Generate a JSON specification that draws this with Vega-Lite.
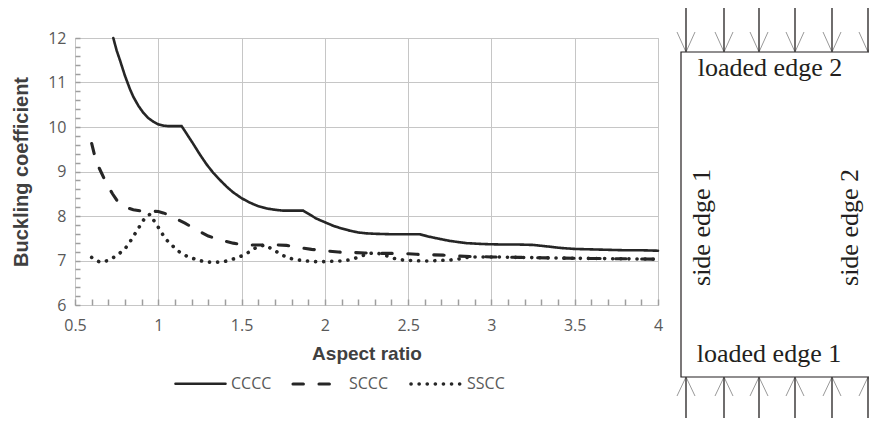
{
  "$schema": "https://vega.github.io/schema/vega-lite/v6.json",
  "width": 583,
  "height": 267,
  "autosize": {"type": "none"},
  "padding": {"left": 75, "top": 38, "right": 211, "bottom": 116},
  "background": "white",
  "config": {
    "view": {"stroke": "#c0c0c0", "strokeWidth": 1},
    "axis": {
      "domain": false,
      "gridColor": "#c6c6c6",
      "gridWidth": 1,
      "labelFont": "Open Sans",
      "labelFontSize": 16,
      "labelColor": "#595959",
      "titleFont": "Liberation Sans",
      "titleFontWeight": "bold",
      "titleFontSize": 19,
      "titleColor": "#404040",
      "labelOverlap": false,
      "labelFlush": false
    },
    "legend": {
      "labelFont": "Open Sans",
      "labelFontSize": 16,
      "labelColor": "#595959"
    }
  },
  "datasets": {
    "curves": [
      {"series": "CCCC", "ratio": 0.73, "k": 12.0},
      {"series": "CCCC", "ratio": 0.75, "k": 11.72},
      {"series": "CCCC", "ratio": 0.77, "k": 11.5},
      {"series": "CCCC", "ratio": 0.8, "k": 11.15},
      {"series": "CCCC", "ratio": 0.83, "k": 10.85},
      {"series": "CCCC", "ratio": 0.85, "k": 10.68},
      {"series": "CCCC", "ratio": 0.88, "k": 10.48},
      {"series": "CCCC", "ratio": 0.91, "k": 10.32},
      {"series": "CCCC", "ratio": 0.94, "k": 10.2},
      {"series": "CCCC", "ratio": 0.97, "k": 10.12},
      {"series": "CCCC", "ratio": 1.0, "k": 10.06},
      {"series": "CCCC", "ratio": 1.03, "k": 10.03},
      {"series": "CCCC", "ratio": 1.06, "k": 10.02},
      {"series": "CCCC", "ratio": 1.1, "k": 10.02},
      {"series": "CCCC", "ratio": 1.14, "k": 10.02},
      {"series": "CCCC", "ratio": 1.17, "k": 9.85},
      {"series": "CCCC", "ratio": 1.21, "k": 9.62},
      {"series": "CCCC", "ratio": 1.25, "k": 9.38},
      {"series": "CCCC", "ratio": 1.29, "k": 9.16},
      {"series": "CCCC", "ratio": 1.33, "k": 8.97},
      {"series": "CCCC", "ratio": 1.37, "k": 8.81},
      {"series": "CCCC", "ratio": 1.41, "k": 8.66},
      {"series": "CCCC", "ratio": 1.45, "k": 8.53},
      {"series": "CCCC", "ratio": 1.5, "k": 8.4},
      {"series": "CCCC", "ratio": 1.55, "k": 8.3},
      {"series": "CCCC", "ratio": 1.6, "k": 8.22},
      {"series": "CCCC", "ratio": 1.65, "k": 8.17},
      {"series": "CCCC", "ratio": 1.7, "k": 8.14},
      {"series": "CCCC", "ratio": 1.75, "k": 8.12},
      {"series": "CCCC", "ratio": 1.8, "k": 8.12},
      {"series": "CCCC", "ratio": 1.87, "k": 8.12},
      {"series": "CCCC", "ratio": 1.91, "k": 8.03},
      {"series": "CCCC", "ratio": 1.95, "k": 7.94},
      {"series": "CCCC", "ratio": 2.0, "k": 7.86},
      {"series": "CCCC", "ratio": 2.05, "k": 7.78},
      {"series": "CCCC", "ratio": 2.1, "k": 7.72},
      {"series": "CCCC", "ratio": 2.15, "k": 7.67},
      {"series": "CCCC", "ratio": 2.2, "k": 7.63},
      {"series": "CCCC", "ratio": 2.25, "k": 7.61},
      {"series": "CCCC", "ratio": 2.3, "k": 7.6},
      {"series": "CCCC", "ratio": 2.4, "k": 7.59},
      {"series": "CCCC", "ratio": 2.5, "k": 7.59},
      {"series": "CCCC", "ratio": 2.57, "k": 7.59},
      {"series": "CCCC", "ratio": 2.62, "k": 7.54},
      {"series": "CCCC", "ratio": 2.67, "k": 7.5},
      {"series": "CCCC", "ratio": 2.75, "k": 7.44},
      {"series": "CCCC", "ratio": 2.85, "k": 7.39},
      {"series": "CCCC", "ratio": 2.95, "k": 7.37},
      {"series": "CCCC", "ratio": 3.05, "k": 7.36},
      {"series": "CCCC", "ratio": 3.15, "k": 7.36},
      {"series": "CCCC", "ratio": 3.25, "k": 7.35},
      {"series": "CCCC", "ratio": 3.3, "k": 7.33},
      {"series": "CCCC", "ratio": 3.35, "k": 7.31},
      {"series": "CCCC", "ratio": 3.42, "k": 7.28},
      {"series": "CCCC", "ratio": 3.5, "k": 7.26},
      {"series": "CCCC", "ratio": 3.6, "k": 7.25},
      {"series": "CCCC", "ratio": 3.7, "k": 7.24},
      {"series": "CCCC", "ratio": 3.8, "k": 7.23},
      {"series": "CCCC", "ratio": 3.9, "k": 7.23},
      {"series": "CCCC", "ratio": 4.0, "k": 7.22},
      {"series": "SCCC", "ratio": 0.6, "k": 9.63},
      {"series": "SCCC", "ratio": 0.62, "k": 9.33},
      {"series": "SCCC", "ratio": 0.64, "k": 9.12},
      {"series": "SCCC", "ratio": 0.66, "k": 8.96},
      {"series": "SCCC", "ratio": 0.68, "k": 8.8},
      {"series": "SCCC", "ratio": 0.7, "k": 8.66},
      {"series": "SCCC", "ratio": 0.725, "k": 8.5},
      {"series": "SCCC", "ratio": 0.75, "k": 8.36},
      {"series": "SCCC", "ratio": 0.775, "k": 8.27},
      {"series": "SCCC", "ratio": 0.8, "k": 8.2},
      {"series": "SCCC", "ratio": 0.85, "k": 8.14},
      {"series": "SCCC", "ratio": 0.9, "k": 8.11},
      {"series": "SCCC", "ratio": 0.95, "k": 8.11},
      {"series": "SCCC", "ratio": 1.0, "k": 8.1},
      {"series": "SCCC", "ratio": 1.03, "k": 8.07},
      {"series": "SCCC", "ratio": 1.06, "k": 8.03},
      {"series": "SCCC", "ratio": 1.1, "k": 7.95},
      {"series": "SCCC", "ratio": 1.16, "k": 7.84},
      {"series": "SCCC", "ratio": 1.22, "k": 7.71},
      {"series": "SCCC", "ratio": 1.3, "k": 7.55},
      {"series": "SCCC", "ratio": 1.38, "k": 7.45},
      {"series": "SCCC", "ratio": 1.45, "k": 7.39},
      {"series": "SCCC", "ratio": 1.5, "k": 7.36},
      {"series": "SCCC", "ratio": 1.55, "k": 7.35},
      {"series": "SCCC", "ratio": 1.6, "k": 7.35},
      {"series": "SCCC", "ratio": 1.7, "k": 7.35},
      {"series": "SCCC", "ratio": 1.77, "k": 7.34},
      {"series": "SCCC", "ratio": 1.85, "k": 7.29},
      {"series": "SCCC", "ratio": 1.92, "k": 7.25},
      {"series": "SCCC", "ratio": 2.0, "k": 7.22},
      {"series": "SCCC", "ratio": 2.08, "k": 7.19},
      {"series": "SCCC", "ratio": 2.16, "k": 7.18},
      {"series": "SCCC", "ratio": 2.24, "k": 7.17},
      {"series": "SCCC", "ratio": 2.32, "k": 7.16},
      {"series": "SCCC", "ratio": 2.4, "k": 7.16},
      {"series": "SCCC", "ratio": 2.5, "k": 7.15},
      {"series": "SCCC", "ratio": 2.55, "k": 7.14},
      {"series": "SCCC", "ratio": 2.63, "k": 7.13},
      {"series": "SCCC", "ratio": 2.71, "k": 7.12},
      {"series": "SCCC", "ratio": 2.8, "k": 7.1},
      {"series": "SCCC", "ratio": 2.87, "k": 7.09},
      {"series": "SCCC", "ratio": 3.0, "k": 7.08},
      {"series": "SCCC", "ratio": 3.17, "k": 7.07},
      {"series": "SCCC", "ratio": 3.33, "k": 7.06},
      {"series": "SCCC", "ratio": 3.5, "k": 7.05},
      {"series": "SCCC", "ratio": 3.75, "k": 7.04},
      {"series": "SCCC", "ratio": 4.0, "k": 7.03},
      {"series": "SSCC", "ratio": 0.6, "k": 7.07},
      {"series": "SSCC", "ratio": 0.65, "k": 6.96},
      {"series": "SSCC", "ratio": 0.7, "k": 7.0},
      {"series": "SSCC", "ratio": 0.75, "k": 7.11},
      {"series": "SSCC", "ratio": 0.8, "k": 7.26},
      {"series": "SSCC", "ratio": 0.83, "k": 7.42},
      {"series": "SSCC", "ratio": 0.86, "k": 7.6},
      {"series": "SSCC", "ratio": 0.89, "k": 7.78},
      {"series": "SSCC", "ratio": 0.92, "k": 7.96},
      {"series": "SSCC", "ratio": 0.95, "k": 8.04},
      {"series": "SSCC", "ratio": 0.98, "k": 7.86},
      {"series": "SSCC", "ratio": 1.01, "k": 7.69},
      {"series": "SSCC", "ratio": 1.04, "k": 7.5},
      {"series": "SSCC", "ratio": 1.08, "k": 7.35},
      {"series": "SSCC", "ratio": 1.12, "k": 7.21},
      {"series": "SSCC", "ratio": 1.17, "k": 7.1},
      {"series": "SSCC", "ratio": 1.22, "k": 7.03},
      {"series": "SSCC", "ratio": 1.28, "k": 6.97},
      {"series": "SSCC", "ratio": 1.33, "k": 6.96},
      {"series": "SSCC", "ratio": 1.39, "k": 6.97},
      {"series": "SSCC", "ratio": 1.44, "k": 7.02},
      {"series": "SSCC", "ratio": 1.5, "k": 7.1},
      {"series": "SSCC", "ratio": 1.55, "k": 7.2},
      {"series": "SSCC", "ratio": 1.59, "k": 7.3},
      {"series": "SSCC", "ratio": 1.64, "k": 7.35},
      {"series": "SSCC", "ratio": 1.7, "k": 7.22},
      {"series": "SSCC", "ratio": 1.75, "k": 7.11},
      {"series": "SSCC", "ratio": 1.8, "k": 7.04},
      {"series": "SSCC", "ratio": 1.86, "k": 7.0},
      {"series": "SSCC", "ratio": 1.92, "k": 6.98},
      {"series": "SSCC", "ratio": 1.97, "k": 6.97},
      {"series": "SSCC", "ratio": 2.03, "k": 6.98},
      {"series": "SSCC", "ratio": 2.09, "k": 6.99},
      {"series": "SSCC", "ratio": 2.14, "k": 7.01},
      {"series": "SSCC", "ratio": 2.19, "k": 7.06},
      {"series": "SSCC", "ratio": 2.25, "k": 7.14},
      {"series": "SSCC", "ratio": 2.3, "k": 7.18},
      {"series": "SSCC", "ratio": 2.36, "k": 7.12},
      {"series": "SSCC", "ratio": 2.41, "k": 7.05},
      {"series": "SSCC", "ratio": 2.47, "k": 7.01},
      {"series": "SSCC", "ratio": 2.52, "k": 7.0},
      {"series": "SSCC", "ratio": 2.58, "k": 6.99},
      {"series": "SSCC", "ratio": 2.63, "k": 6.99},
      {"series": "SSCC", "ratio": 2.68, "k": 7.0},
      {"series": "SSCC", "ratio": 2.75, "k": 7.01},
      {"series": "SSCC", "ratio": 2.8, "k": 7.03},
      {"series": "SSCC", "ratio": 2.87, "k": 7.08},
      {"series": "SSCC", "ratio": 3.0, "k": 7.08},
      {"series": "SSCC", "ratio": 3.5, "k": 7.05},
      {"series": "SSCC", "ratio": 4.0, "k": 7.03}
    ],
    "shafts": [
      {"u": 5, "v1": 325, "v2": 369},
      {"u": 43, "v1": 325, "v2": 369},
      {"u": 78, "v1": 325, "v2": 369},
      {"u": 114, "v1": 325, "v2": 369},
      {"u": 151, "v1": 325, "v2": 369},
      {"u": 187, "v1": 325, "v2": 369},
      {"u": 5, "v1": -41, "v2": 0},
      {"u": 43, "v1": -41, "v2": 0},
      {"u": 78, "v1": -41, "v2": 0},
      {"u": 114, "v1": -41, "v2": 0},
      {"u": 151, "v1": -41, "v2": 0},
      {"u": 187, "v1": -41, "v2": 0}
    ],
    "arms": [
      {"u1": -4, "v1": 345, "u2": 5, "v2": 325},
      {"u1": 14, "v1": 345, "u2": 5, "v2": 325},
      {"u1": 34, "v1": 345, "u2": 43, "v2": 325},
      {"u1": 52, "v1": 345, "u2": 43, "v2": 325},
      {"u1": 69, "v1": 345, "u2": 78, "v2": 325},
      {"u1": 87, "v1": 345, "u2": 78, "v2": 325},
      {"u1": 105, "v1": 345, "u2": 114, "v2": 325},
      {"u1": 123, "v1": 345, "u2": 114, "v2": 325},
      {"u1": 142, "v1": 345, "u2": 151, "v2": 325},
      {"u1": 160, "v1": 345, "u2": 151, "v2": 325},
      {"u1": 178, "v1": 345, "u2": 187, "v2": 325},
      {"u1": 196, "v1": 345, "u2": 187, "v2": 325},
      {"u1": -4, "v1": -19, "u2": 5, "v2": 0},
      {"u1": 14, "v1": -19, "u2": 5, "v2": 0},
      {"u1": 34, "v1": -19, "u2": 43, "v2": 0},
      {"u1": 52, "v1": -19, "u2": 43, "v2": 0},
      {"u1": 69, "v1": -19, "u2": 78, "v2": 0},
      {"u1": 87, "v1": -19, "u2": 78, "v2": 0},
      {"u1": 105, "v1": -19, "u2": 114, "v2": 0},
      {"u1": 123, "v1": -19, "u2": 114, "v2": 0},
      {"u1": 142, "v1": -19, "u2": 151, "v2": 0},
      {"u1": 160, "v1": -19, "u2": 151, "v2": 0},
      {"u1": 178, "v1": -19, "u2": 187, "v2": 0},
      {"u1": 196, "v1": -19, "u2": 187, "v2": 0}
    ],
    "plate": [{"u1": 0, "u2": 230, "v1": 0, "v2": 325}],
    "hlabels": [
      {"text": "loaded edge 2", "u": 89, "v": 301},
      {"text": "loaded edge 1", "u": 88, "v": 15}
    ],
    "vlabels": [
      {"text": "side edge 1", "u": 29, "v": 149.5},
      {"text": "side edge 2", "u": 177, "v": 149.5}
    ]
  },
  "layer": [
    {
      "data": {"name": "curves"},
      "mark": {"type": "line", "strokeCap": "round", "color": "#262626"},
      "encoding": {
        "x": {
          "field": "ratio",
          "type": "quantitative",
          "scale": {"domain": [0.5, 4], "nice": false, "zero": false},
          "axis": {
            "title": "Aspect ratio",
            "values": [0.5, 0.6, 0.7, 0.8, 0.9, 1, 1.1, 1.2, 1.3, 1.4, 1.5, 1.6, 1.7, 1.8, 1.9, 2, 2.1, 2.2, 2.3, 2.4, 2.5, 2.6, 2.7, 2.8, 2.9, 3, 3.1, 3.2, 3.3, 3.4, 3.5, 3.6, 3.7, 3.8, 3.9, 4],
            "ticks": true,
            "tickColor": "#9e9e9e",
            "tickWidth": 1.5,
            "tickSize": -6,
            "labelPadding": 18,
            "titlePadding": 11,
            "labelExpr": "datum.value % 0.5 === 0 ? '' + datum.value : ''",
            "gridOpacity": {"condition": {"test": "datum.value % 0.5 === 0", "value": 1}, "value": 0}
          }
        },
        "y": {
          "field": "k",
          "type": "quantitative",
          "scale": {"domain": [6, 12], "nice": false, "zero": false},
          "axis": {
            "title": "Buckling coefficient",
            "titleFontSize": 20,
            "values": [6, 6.2, 6.4, 6.6, 6.8, 7, 7.2, 7.4, 7.6, 7.8, 8, 8.2, 8.4, 8.6, 8.8, 9, 9.2, 9.4, 9.6, 9.8, 10, 10.2, 10.4, 10.6, 10.8, 11, 11.2, 11.4, 11.6, 11.8, 12],
            "ticks": true,
            "tickColor": "#9e9e9e",
            "tickWidth": 1.5,
            "tickSize": -5,
            "labelPadding": 14,
            "titlePadding": 16,
            "labelExpr": "datum.value % 1 === 0 ? '' + datum.value : ''",
            "gridOpacity": {"condition": {"test": "datum.value % 1 === 0", "value": 1}, "value": 0}
          }
        },
        "strokeDash": {
          "field": "series",
          "type": "nominal",
          "scale": {"domain": ["CCCC", "SCCC", "SSCC"], "range": [[1, 0], [10.4, 15.6], [0.1, 8]]},
          "legend": {
            "title": null,
            "orient": "none",
            "direction": "horizontal",
            "legendX": 99,
            "legendY": 319,
            "symbolType": "stroke",
            "symbolSize": 2500,
            "symbolStrokeWidth": 3.6,
            "symbolStrokeColor": "#262626",
            "labelOffset": 4,
            "columnPadding": 14,
            "encode": {"symbols": {"update": {"strokeCap": {"value": "round"}}}}
          }
        },
        "strokeWidth": {
          "field": "series",
          "type": "nominal",
          "scale": {"domain": ["CCCC", "SCCC", "SSCC"], "range": [2.6, 3.6, 4.2]},
          "legend": null
        }
      }
    },
    {
      "layer": [
        {
          "data": {"name": "plate"},
          "mark": {"type": "rect", "filled": false, "stroke": "#231f20", "strokeWidth": 1.2},
          "encoding": {
            "x": {"field": "u1", "type": "quantitative", "scale": {"domain": [0, 200], "range": [606, 806], "nice": false, "zero": false}, "axis": null},
            "x2": {"field": "u2"},
            "y": {"field": "v1", "type": "quantitative", "scale": {"domain": [0, 325], "range": [339, 14], "nice": false, "zero": false}, "axis": null},
            "y2": {"field": "v2"}
          }
        },
        {
          "data": {"name": "arms"},
          "mark": {"type": "rule", "color": "#999999", "strokeWidth": 1},
          "encoding": {
            "x": {"field": "u1", "type": "quantitative", "scale": {"domain": [0, 200], "range": [606, 806], "nice": false, "zero": false}, "axis": null},
            "x2": {"field": "u2"},
            "y": {"field": "v1", "type": "quantitative", "scale": {"domain": [0, 325], "range": [339, 14], "nice": false, "zero": false}, "axis": null},
            "y2": {"field": "v2"}
          }
        },
        {
          "data": {"name": "shafts"},
          "mark": {"type": "rule", "color": "#231f20", "strokeWidth": 1.3},
          "encoding": {
            "x": {"field": "u", "type": "quantitative", "scale": {"domain": [0, 200], "range": [606, 806], "nice": false, "zero": false}, "axis": null},
            "y": {"field": "v1", "type": "quantitative", "scale": {"domain": [0, 325], "range": [339, 14], "nice": false, "zero": false}, "axis": null},
            "y2": {"field": "v2"}
          }
        },
        {
          "data": {"name": "hlabels"},
          "mark": {"type": "text", "font": "Liberation Serif", "fontSize": 26, "color": "#231f20", "align": "center", "baseline": "alphabetic"},
          "encoding": {
            "x": {"field": "u", "type": "quantitative", "scale": {"domain": [0, 200], "range": [606, 806], "nice": false, "zero": false}, "axis": null},
            "y": {"field": "v", "type": "quantitative", "scale": {"domain": [0, 325], "range": [339, 14], "nice": false, "zero": false}, "axis": null},
            "text": {"field": "text"}
          }
        },
        {
          "data": {"name": "vlabels"},
          "mark": {"type": "text", "font": "Liberation Serif", "fontSize": 26, "color": "#231f20", "align": "center", "baseline": "alphabetic", "angle": 270},
          "encoding": {
            "x": {"field": "u", "type": "quantitative", "scale": {"domain": [0, 200], "range": [606, 806], "nice": false, "zero": false}, "axis": null},
            "y": {"field": "v", "type": "quantitative", "scale": {"domain": [0, 325], "range": [339, 14], "nice": false, "zero": false}, "axis": null},
            "text": {"field": "text"}
          }
        }
      ]
    }
  ],
  "resolve": {"scale": {"x": "independent", "y": "independent"}}
}
